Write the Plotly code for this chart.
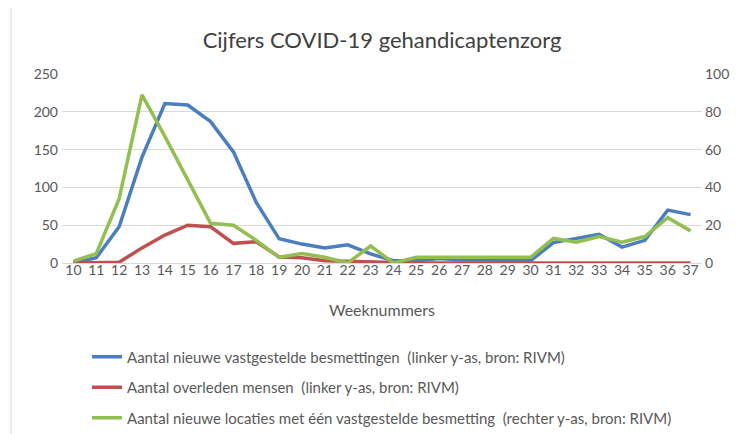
import plotly.graph_objects as go

weeks = list(range(10, 38))
besmettingen = [0, 7, 48, 140, 211, 209, 187, 147, 80, 32, 25, 20, 24, 12, 3, 3, 6, 4, 4, 4, 3, 27, 32, 38, 21, 30, 70, 64]
overleden = [0, 0, 1, 20, 37, 50, 48, 26, 28, 8, 7, 3, 2, 1, 0, 0, 0, 0, 0, 0, 0, 0, 0, 1, 0, 0, 0, 0]
locaties = [1, 5, 34, 89, 67, 44, 21, 20, 12, 3, 5, 3, 0, 9, 0, 3, 3, 3, 3, 3, 3, 13, 11, 14, 11, 14, 24, 17]

names = [
    "Aantal nieuwe vastgestelde besmettingen  (linker y-as, bron: RIVM)",
    "Aantal overleden mensen  (linker y-as, bron: RIVM)",
    "Aantal nieuwe locaties met één vastgestelde besmetting  (rechter y-as, bron: RIVM)",
]
colors = ["#4a7ebf", "#c0504d", "#92bf50"]

FONT = "Lato, Carlito, 'Open Sans', sans-serif"
TXT = "#595959"

fig = go.Figure()
fig.add_trace(go.Scatter(x=weeks, y=besmettingen, name=names[0], mode="lines",
                         line=dict(color=colors[0], width=3.5), legendgroup="a"))
fig.add_trace(go.Scatter(x=weeks, y=overleden, name=names[1], mode="lines",
                         line=dict(color=colors[1], width=3.5), legendgroup="b"))
fig.add_trace(go.Scatter(x=weeks, y=locaties, name=names[2], mode="lines", yaxis="y2",
                         line=dict(color=colors[2], width=3.5), legendgroup="c"))

OFF = 8  # page body margin
L, R, T, B = 62, 702, 74, 262.7  # plot area in screen pixels
W, H = 741 - OFF, 434 - OFF
pw, ph = R - L, B - T

def px(x):
    return (x - L) / pw

def py(y):
    return (B - y) / ph

fig.update_layout(
    width=W, height=H,
    margin=dict(l=L - OFF, r=741 - R, t=T - OFF, b=434 - B, autoexpand=False),
    paper_bgcolor="white", plot_bgcolor="white",
    font=dict(family=FONT, color=TXT, size=14),
    title=dict(text="Cijfers COVID-19 gehandicaptenzorg", x=0.5, xref="paper",
               y=1 - (40 - OFF) / H, yanchor="middle", font=dict(size=22, color="#404040")),
    xaxis=dict(range=[9.5, 37.5], tickmode="array", tickvals=weeks, ticktext=[str(w) for w in weeks],
               showgrid=False, showline=True, linecolor="#d9d9d9", linewidth=1, zeroline=False,
               ticks="", tickfont=dict(size=14, color=TXT), automargin=False, ticklabelstandoff=-6,
               title=dict(text="Weeknummers", font=dict(size=16, color=TXT), standoff=28)),
    yaxis=dict(range=[0, 250], tickvals=[0, 50, 100, 150, 200, 250], showgrid=True,
               gridcolor="#d9d9d9", gridwidth=1, zeroline=False, ticks="", automargin=False,
               tickfont=dict(size=14, color=TXT), ticklabelstandoff=3),
    yaxis2=dict(range=[0, 100], tickvals=[0, 20, 40, 60, 80, 100], overlaying="y", side="right",
                showgrid=False, zeroline=False, ticks="", tickfont=dict(size=14, color=TXT),
                ticklabelstandoff=2, automargin=False),
    legend=dict(x=px(87), y=py(340), xanchor="left", yanchor="top", orientation="v",
                tracegroupgap=8, font=dict(size=15, color=TXT), itemwidth=30,
                bgcolor="rgba(0,0,0,0)"),
    shapes=[
        dict(type="line", xref="paper", yref="paper", x0=px(11), x1=px(11), y0=py(7), y1=py(434),
             line=dict(color="#d9d9d9", width=1)),
        dict(type="line", xref="paper", yref="paper", x0=px(11), x1=px(741), y0=py(7), y1=py(7),
             line=dict(color="#d9d9d9", width=1)),
    ],
)

fig.write_html("out.html")
